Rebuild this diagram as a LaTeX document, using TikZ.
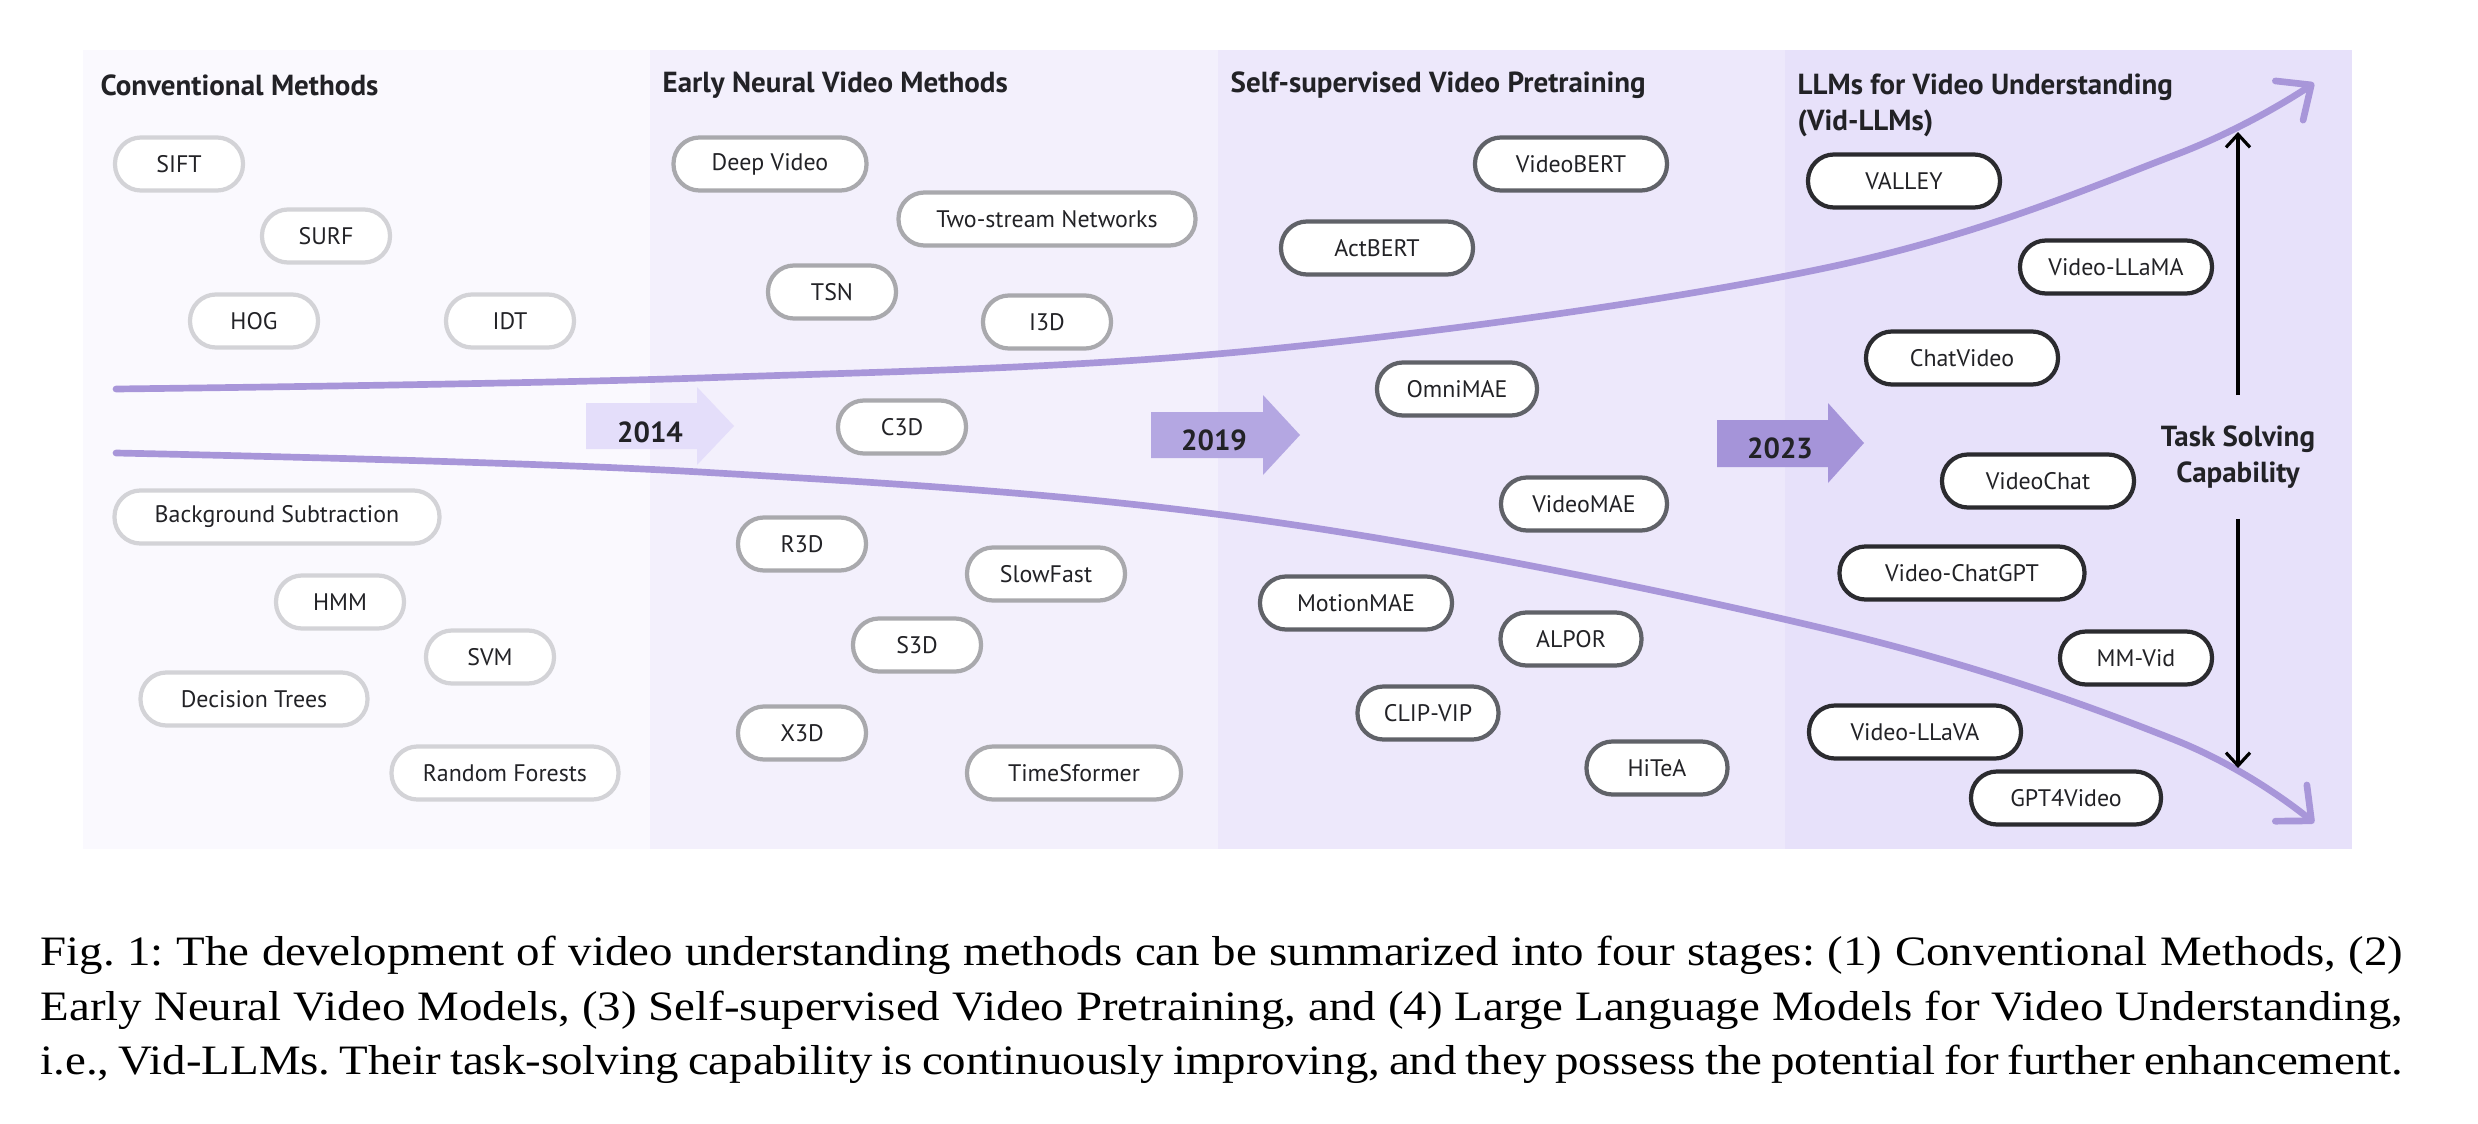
\documentclass[tikz,border=0pt]{standalone}
\usepackage{fontspec}
\setmainfont{Liberation Serif}
\setsansfont{PT Sans}
\newfontfamily\capfont[FakeStretch=1.12]{Liberation Serif}
\usepackage{tikz}
\usepackage{xcolor}
\usetikzlibrary{arrows.meta}

\definecolor{stageA}{HTML}{FAF9FE}
\definecolor{stageB}{HTML}{F3F0FC}
\definecolor{stageC}{HTML}{EDE8FB}
\definecolor{stageD}{HTML}{E7E1FA}
\definecolor{edgeA}{HTML}{D3D3D7}
\definecolor{edgeB}{HTML}{A9A9AD}
\definecolor{edgeC}{HTML}{606268}
\definecolor{edgeD}{HTML}{2B2B2F}
\definecolor{trend}{HTML}{A896D9}
\definecolor{yrA}{HTML}{E4DEFA}
\definecolor{yrB}{HTML}{B4A7E2}
\definecolor{yrC}{HTML}{A594D9}
\definecolor{ink}{HTML}{222226}

\tikzset{
  pill/.style={draw,fill=white,line width=1.2pt,rounded corners=2.6mm,minimum height=5.3mm,
    inner xsep=1mm,inner ysep=0pt,text=ink,font=\sffamily\fontsize{6.8}{8}\selectfont},
  pillA/.style={pill,draw=edgeA,minimum width=#1*0.01cm},pillA/.default=128,
  pillB/.style={pill,draw=edgeB,minimum width=#1*0.01cm},pillB/.default=128,
  pillC/.style={pill,draw=edgeC,minimum width=#1*0.01cm},pillC/.default=141,
  pillD/.style={pill,draw=edgeD,minimum width=#1*0.01cm},pillD/.default=192,
  head/.style={anchor=west,inner sep=0pt,text=ink,font=\sffamily\bfseries\fontsize{8.25}{10.2}\selectfont},
  year/.style={inner sep=0pt,text=ink,font=\sffamily\bfseries\fontsize{8.25}{9}\selectfont},
  trendline/.style={line width=1.9pt,draw=trend,line cap=round,
    -{Straight Barb[length=2.7mm,width=4.8mm,round]}},
  capar/.style={line width=0.9pt,-{Straight Barb[length=1.3mm,width=2.4mm]}},
}

\begin{document}
\begin{tikzpicture}[x=0.01cm,y=-0.01cm]
\useasboundingbox(0,0)rectangle(2478,1124);
\fill[stageA](83,50)rectangle(650,849);
\fill[stageB](650,50)rectangle(1218,849);
\fill[stageC](1218,50)rectangle(1785,849);
\fill[stageD](1785,50)rectangle(2352,849);

\node[head](hconv)at(100,85){Conventional Methods};
\node[head](hearly)at(662,85){Early Neural Video Methods};
\node[head](hself)at(1230,85){Self-supervised Video Pretraining};
\node[head,align=left](hllm)at(1797,105){LLMs for Video Understanding\\(Vid-LLMs)};

% year arrows
\fill[yrA](586,403)--(697,403)--(697,387)--(734,426)--(697,465)--(697,449)--(586,449)--cycle;
\fill[yrB](1151,412)--(1263,412)--(1263,395)--(1300,435)--(1263,475)--(1263,458)--(1151,458)--cycle;
\fill[yrC](1717,420)--(1828,420)--(1828,403)--(1864,443)--(1828,483)--(1828,467)--(1717,467)--cycle;
\node[year](y2014)at(650,432){2014};
\node[year](y2019)at(1214,440){2019};
\node[year](y2023)at(1780,448){2023};

% trend curves
\draw[trendline]plot[smooth,tension=0.6]coordinates{(116,389)(700,378)(1260,350)(1830,267)(2175,155)(2314,83)};
\draw[trendline]plot[smooth,tension=0.6]coordinates{(116,453)(700,472)(1260,520)(1830,630)(2175,740)(2314,823)};

% conventional
\node[pillA](sift)at(179,164){SIFT};
\node[pillA](surf)at(326,236){SURF};
\node[pillA](hog)at(254,321){HOG};
\node[pillA](idt)at(510,321){IDT};
\node[pillA=325](bgsub)at(277,517){Background Subtraction};
\node[pillA](hmm)at(340,602){HMM};
\node[pillA](svm)at(490,657){SVM};
\node[pillA=227](dtree)at(254,699){Decision Trees};
\node[pillA=227](rforest)at(505,773){Random Forests};

% early neural
\node[pillB=193](deepvid)at(770,164){Deep Video};
\node[pillB=297](twostream)at(1047,219){Two-stream Networks};
\node[pillB](tsn)at(832,292){TSN};
\node[pillB](ithreed)at(1047,322){I3D};
\node[pillB](cthreed)at(902,427){C3D};
\node[pillB](rthreed)at(802,544){R3D};
\node[pillB=158](slowfast)at(1046,574){SlowFast};
\node[pillB](sthreed)at(917,645){S3D};
\node[pillB](xthreed)at(802,733){X3D};
\node[pillB=214](timesf)at(1074,773){TimeSformer};

% self-supervised
\node[pillC=192](videobert)at(1571,164){VideoBERT};
\node[pillC=192](actbert)at(1377,248){ActBERT};
\node[pillC=160](omnimae)at(1457,389){OmniMAE};
\node[pillC=166](videomae)at(1584,504){VideoMAE};
\node[pillC=192](motionmae)at(1356,603){MotionMAE};
\node[pillC](alpor)at(1571,639){ALPOR};
\node[pillC](clipvip)at(1428,713){CLIP-VIP};
\node[pillC](hitea)at(1657,768){HiTeA};

% vid-llms
\node[pillD](valley)at(1904,181){VALLEY};
\node[pillD](vllama)at(2116,267){Video-LLaMA};
\node[pillD](chatvideo)at(1962,358){ChatVideo};
\node[pillD](videochat)at(2038,481){VideoChat};
\node[pillD=245](vchatgpt)at(1962,573){Video-ChatGPT};
\node[pillD=152](mmvid)at(2136,658){MM-Vid};
\node[pillD=212](vllava)at(1915,732){Video-LLaVA};
\node[pillD=190](gptvideo)at(2066,798){GPT4Video};

\node[head,anchor=center,align=center](task)at(2238,457){Task Solving\\Capability};
\coordinate(uptip)at(2238,132);
\coordinate(downtip)at(2238,768);
\draw[capar]([yshift=0.3cm]task.north)--(uptip);
\draw[capar]([yshift=-0.3cm]task.south)--(downtip);

\node[anchor=north west,inner sep=0pt,align=left,font=\capfont\frenchspacing\fontsize{11.9}{15.6}\selectfont](caption)at(40,935){%
\makebox[23.61cm][s]{Fig. 1: The development of video understanding methods can be summarized into four stages: (1) Conventional Methods, (2)}\\
\makebox[23.61cm][s]{Early Neural Video Models, (3) Self-supervised Video Pretraining, and (4) Large Language Models for Video Understanding,}\\
\makebox[23.61cm][s]{i.e., Vid-LLMs. Their task-solving capability is continuously improving, and they possess the potential for further enhancement.}};
\end{tikzpicture}
\end{document}
